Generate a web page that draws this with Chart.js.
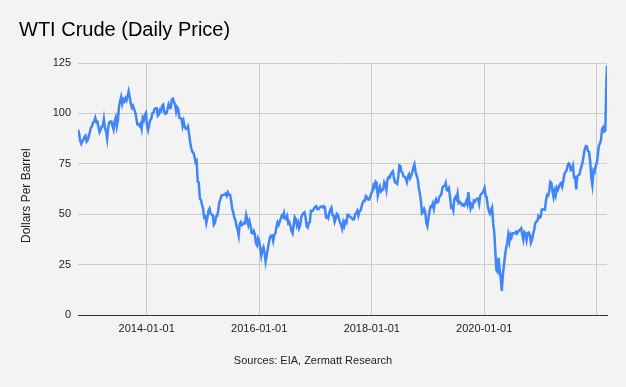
<!DOCTYPE html>
<html>
<head>
<meta charset="utf-8">
<script src="https://cdn.jsdelivr.net/npm/chart.js@4.4.1/dist/chart.umd.min.js"></script>
<style>
  html, body { margin: 0; padding: 0; background: #f3f3f3; }
  #wrap { width: 626px; height: 387px; }
</style>
</head>
<body>
<div id="wrap"><canvas id="myChart" width="626" height="387"></canvas></div>
<script>
// WTI weekly closes (Fridays)
const wti2012 = [92.0, 90.0, 86.3, 84.9, 86.1, 86.9, 88.3, 88.9, 86.0, 86.7, 88.7, 90.8];
const wti2013 = [93.1, 93.6, 95.6, 95.9, 97.8, 95.7, 95.9, 93.1, 90.7, 91.9, 93.5, 93.7, 97.2,
  92.7, 91.3, 87.5, 93.0, 95.6, 96.0, 96.0, 93.8, 92.0, 96.0, 97.9, 93.7, 96.6,
  103.2, 105.9, 108.1, 104.7, 106.9, 106.0, 107.5, 106.4, 108.5, 111.0, 108.2, 104.7, 102.9,
  103.8, 102.0, 100.8, 97.9, 94.6, 94.6, 93.8, 94.8, 92.3, 97.7, 96.6, 99.3, 100.3];
const wti2014 = [94.0, 91.7, 94.4, 96.6, 97.5, 100.1, 100.3, 102.2, 102.6, 102.6, 98.9, 99.5, 101.7,
  101.1, 103.7, 104.3, 100.6, 99.8, 100.0, 102.0, 104.4, 102.7, 102.7, 106.9, 107.3, 105.7,
  104.1, 100.8, 103.1, 102.1, 97.9, 97.6, 97.4, 93.7, 96.0, 93.3, 92.3, 92.4, 93.5,
  89.7, 85.8, 82.8, 81.0, 80.5, 78.7, 75.8, 76.5, 66.2, 65.8, 57.8, 57.1, 54.7];
const wti2015 = [52.7, 48.4, 48.7, 45.6, 48.2, 51.7, 52.8, 50.3, 49.8, 49.6, 44.8, 45.7, 48.9,
  49.1, 51.6, 55.7, 57.2, 59.2, 59.4, 59.7, 59.7, 60.3, 59.1, 60.8, 59.6, 59.6,
  56.9, 52.7, 50.9, 48.1, 47.1, 43.9, 42.5, 39.5, 45.2, 46.1, 44.6, 45.0, 45.7,
  45.5, 49.6, 47.3, 44.6, 46.6, 44.3, 40.7, 40.5, 41.7, 40.0, 35.6, 34.6, 38.1];
const wti2016 = [37.0, 33.2, 29.4, 32.2, 33.6, 30.9, 26.5, 29.6, 32.8, 35.9, 38.5, 39.4, 39.5,
  36.8, 39.7, 40.4, 43.7, 45.9, 44.7, 46.2, 47.8, 49.3, 48.6, 50.6, 48.0, 47.6,
  49.0, 45.4, 46.0, 44.2, 41.6, 40.5, 44.5, 48.5, 47.6, 44.4, 45.9, 43.0, 44.5, 48.2,
  49.8, 50.4, 50.9, 48.7, 44.1, 43.4, 45.7, 46.1, 51.7, 51.5, 51.9, 53.0, 53.7];
const wti2017 = [54.0, 52.4, 52.4, 53.2, 53.8, 53.9, 53.4, 54.0, 53.3, 48.5, 48.8, 48.0, 50.6,
  52.2, 53.2, 49.6, 49.3, 46.2, 47.8, 50.3, 49.8, 47.7, 45.8, 44.7, 42.8, 46.0,
  44.2, 46.5, 45.8, 49.7, 49.6, 48.8, 48.5, 47.9, 47.3, 47.5, 49.9, 50.7, 51.7,
  49.3, 51.5, 51.8, 53.9, 55.6, 56.7, 56.6, 59.0, 58.4, 57.4, 57.3, 58.5, 60.4];
const wti2018 = [61.4, 64.3, 63.4, 66.1, 65.5, 59.2, 61.7, 63.6, 61.3, 62.0, 62.3, 65.9, 64.9,
  62.1, 67.4, 68.4, 68.1, 69.7, 70.7, 71.3, 67.9, 65.8, 65.7, 65.1, 68.6, 74.2,
  73.8, 71.0, 70.5, 68.7, 68.5, 67.6, 65.9, 68.7, 69.8, 67.8, 69.0, 70.8, 73.3,
  74.8, 71.3, 69.1, 67.6, 63.1, 60.2, 56.5, 50.4, 50.9, 52.6, 51.2, 45.6, 44.0];
const wti2019 = [48.0, 51.6, 53.8, 53.7, 55.3, 52.7, 55.6, 57.3, 55.8, 56.1, 58.5, 59.0, 60.1,
  63.1, 63.9, 64.0, 65.5, 61.9, 61.7, 62.8, 58.6, 53.5, 54.0, 52.0, 57.4, 58.5,
  57.5, 60.2, 55.6, 56.2, 55.7, 54.5, 54.9, 54.2, 55.1, 56.5, 54.9, 61.0, 55.9,
  52.8, 54.7, 53.8, 56.7, 56.2, 57.2, 57.7, 57.8, 55.2, 59.2, 60.1, 60.4, 61.7];
const wti2020 = [63.1, 59.0, 58.5, 54.2, 51.6, 50.3, 52.1, 53.4, 45.3, 41.3, 31.7, 22.4, 21.5,
  28.3, 22.8, 18.3, 12.0, 19.8, 24.7, 29.4, 33.3, 35.5, 39.6, 36.3, 39.8, 38.5,
  40.6, 40.6, 40.6, 41.3, 40.3, 41.2, 42.0, 42.3, 43.0, 39.8, 37.3, 41.1, 40.3,
  37.1, 40.6, 40.9, 39.9, 35.8, 37.1, 40.1, 42.2, 45.5, 46.3, 46.6, 49.1, 48.2];
const wti2021 = [48.5, 52.2, 52.4, 52.3, 52.2, 56.9, 59.5, 59.2, 61.5, 66.1, 65.6, 61.4, 58.5,
  61.5, 59.3, 63.1, 62.1, 63.6, 64.9, 65.4, 63.6, 66.3, 69.6, 70.9, 71.6, 74.1,
  75.2, 74.6, 71.8, 72.1, 74.0, 68.3, 68.4, 62.3, 68.7, 69.3, 69.7, 72.0, 74.0,
  75.9, 79.4, 82.3, 83.8, 83.6, 81.3, 80.8, 76.1, 68.2, 64.5, 71.7, 70.9, 73.8, 75.2];
const wti2022 = [78.9, 83.8, 85.1, 86.8, 92.3, 93.1, 91.1, 91.6, 115.7];
const lastDate = '2022-03-08';
const lastPrice = 123.7;

// first Friday of each weekly block
const blocks = [
  ['2012-10-12', wti2012], ['2013-01-04', wti2013], ['2014-01-03', wti2014],
  ['2015-01-02', wti2015], ['2016-01-01', wti2016], ['2017-01-06', wti2017],
  ['2018-01-05', wti2018], ['2019-01-04', wti2019], ['2020-01-03', wti2020],
  ['2021-01-01', wti2021], ['2022-01-07', wti2022]
];

const xTickDates = ['2014-01-01', '2016-01-01', '2018-01-01', '2020-01-01', '2022-01-01'];
const hiddenTickLabels = ['2022-01-01'];

function dayNum(s) { return Date.parse(s + 'T00:00:00Z') / 86400000; }
function dayStr(d) { return new Date(Math.round(d) * 86400000).toISOString().slice(0, 10); }

const points = [];
blocks.forEach(([start, arr]) => {
  const d0 = dayNum(start);
  arr.forEach((v, i) => points.push({ x: d0 + 7 * i, y: v }));
});
points.push({ x: dayNum(lastDate), y: lastPrice });

const FONT = '"Liberation Sans", Arial, sans-serif';

const ctx = document.getElementById('myChart').getContext('2d');
const myChart = new Chart(ctx, {
  type: 'line',
  data: {
    datasets: [{
      label: 'WTI',
      data: points,
      borderColor: '#4285f4',
      borderWidth: 2.5,
      pointRadius: 0,
      tension: 0,
      fill: false
    }]
  },
  options: {
    responsive: false,
    animation: false,
    events: [],
    layout: { padding: { left: 19, right: 19, top: 0, bottom: 0 } },
    plugins: {
      legend: { display: false },
      tooltip: { enabled: false },
      title: {
        display: true,
        text: 'WTI Crude (Daily Price)',
        align: 'start',
        color: '#000',
        font: { family: FONT, size: 20, weight: 'normal' },
        padding: { top: 18, bottom: 21 }
      },
      subtitle: {
        display: true,
        position: 'bottom',
        text: 'Sources: EIA, Zermatt Research',
        color: '#222',
        font: { family: FONT, size: 11, weight: 'normal' },
        padding: { top: 0, bottom: 19 }
      }
    },
    scales: {
      x: {
        type: 'linear',
        min: points[0].x,
        max: dayNum(lastDate),
        afterBuildTicks: s => { s.ticks = xTickDates.map(d => ({ value: dayNum(d) })); },
        afterFit: s => { s.height = 39.8; },
        ticks: {
          autoSkip: false,
          maxRotation: 0,
          padding: 7,
          color: '#222',
          font: { family: FONT, size: 11 },
          callback: v => hiddenTickLabels.includes(dayStr(v)) ? '' : dayStr(v)
        },
        grid: { color: '#cccccc', drawTicks: false },
        border: { color: '#333333' }
      },
      y: {
        min: 0,
        max: 125,
        afterFit: s => { s.width = 59; },
        ticks: {
          stepSize: 25,
          padding: 7,
          color: '#222',
          font: { family: FONT, size: 11 }
        },
        grid: {
          color: c => (c.tick && c.tick.value === 0) ? '#333333' : '#cccccc',
          drawTicks: false
        },
        border: { display: false },
        title: {
          display: true,
          // trailing spaces push the label down a little, as in the original
          text: 'Dollars Per Barrel    ',
          color: '#222',
          font: { family: FONT, size: 12 },
          padding: { top: 0.5, bottom: 0 }
        }
      }
    }
  }
});
</script>
</body>
</html>
